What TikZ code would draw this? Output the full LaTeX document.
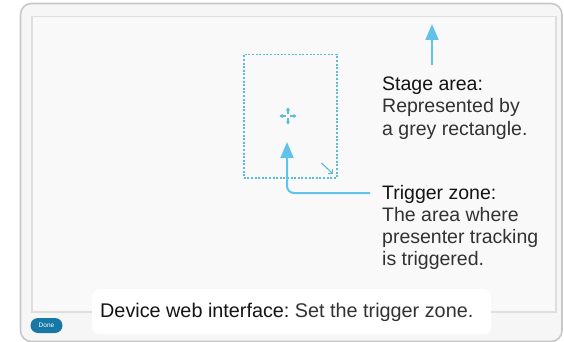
\documentclass[tikz,border=0pt]{standalone}
\usepackage{fontspec}
\setmainfont{Liberation Sans}
\usetikzlibrary{arrows.meta}
\frenchspacing
\definecolor{framegrey}{RGB}{200,200,200}
\definecolor{innergrey}{RGB}{222,222,222}
\definecolor{bgout}{RGB}{246,246,246}
\definecolor{bgin}{RGB}{249,249,249}
\definecolor{callout}{RGB}{98,195,234}
\definecolor{zonecol}{RGB}{90,188,214}
\definecolor{donecol}{RGB}{24,120,165}
\definecolor{headtxt}{RGB}{20,20,20}
\definecolor{bodytxt}{RGB}{50,50,50}
\tikzset{
  calloutline/.style={draw=callout,line width=2pt},
  calloutarrow/.style={calloutline,-{Triangle[length=16pt,width=13pt]}},
  txtblock/.style={inner sep=0pt,align=left,anchor=base west,text=bodytxt,font=\fontsize{19.5}{22}\selectfont},
  zonebox/.style={draw=zonecol,line width=1.5pt,dash pattern=on 2pt off 1.6pt},
  iconarrow/.style={draw=zonecol,line width=1.1pt,-{Triangle[length=3pt,width=4pt]}}
}
\begin{document}
\begin{tikzpicture}[x=1pt,y=-1pt]
\useasboundingbox (0,0) rectangle (564,342);
\begin{scope}
\clip (0,0) rectangle (564,342);
% outer frame
\draw[draw=framegrey,line width=1.6pt,fill=bgout,rounded corners=11pt] (20.5,3.5) rectangle (562,341.5);
\end{scope}
% stage area
\node[draw=innergrey,line width=1.5pt,fill=bgin,inner sep=0pt,minimum width=524pt,minimum height=295pt,anchor=north west] (stage) at (31,16) {};
% trigger zone
\node[zonebox,inner sep=0pt,minimum width=93pt,minimum height=123pt,anchor=north west] (zone) at (243,54) {};
% move icon
\coordinate (mc) at (288,116);
\draw[iconarrow] (mc) ++(0,-2) -- ++(0,-6.5);
\draw[iconarrow] (mc) ++(0,2) -- ++(0,6.5);
\draw[iconarrow] (mc) ++(-2,0) -- ++(-6.5,0);
\draw[iconarrow] (mc) ++(2,0) -- ++(6.5,0);
% resize arrow
\coordinate (rs1) at (321.5,163);
\coordinate (rs2) at (333,174);
\draw[draw=zonecol,line width=1.1pt,-{Straight Barb[length=3pt,width=6pt]}] (rs1) -- (rs2);
% stage callout
\coordinate (stagefoot) at (432,65);
\coordinate (stagetip) at (432,24);
\draw[calloutarrow] (stagefoot) -- (stagetip);
\node[txtblock] (stagetxt) at (382,135) {{\color{headtxt}Stage area:}\\Represented by\\a grey rectangle.};
% trigger callout
\coordinate (trigfoot) at (370,193);
\coordinate (trigtip) at (287,142);
\draw[calloutarrow,rounded corners=7pt] (trigfoot) -- (287,193) -- (trigtip);
\node[txtblock] (trigtxt) at (382,265) {{\color{headtxt}Trigger zone:}\\The area where\\presenter tracking\\is triggered.};
% bottom label
\node[fill=white,rounded corners=7pt,inner sep=0pt,minimum width=399pt,minimum height=45pt,anchor=north west] (labelbox) at (92,289) {};
\node[txtblock,font=\fontsize{19.8}{22}\selectfont] (labeltxt) at (100,317) {{\color{headtxt}Device web interface:} Set the trigger zone.};
% done button
\node[fill=donecol,rounded corners=7.5pt,minimum width=32pt,minimum height=15pt,inner sep=0pt,text=white,font=\fontsize{6.5}{7}\selectfont] (done) at (46.5,325.5) {Done};
\end{tikzpicture}
\end{document}
